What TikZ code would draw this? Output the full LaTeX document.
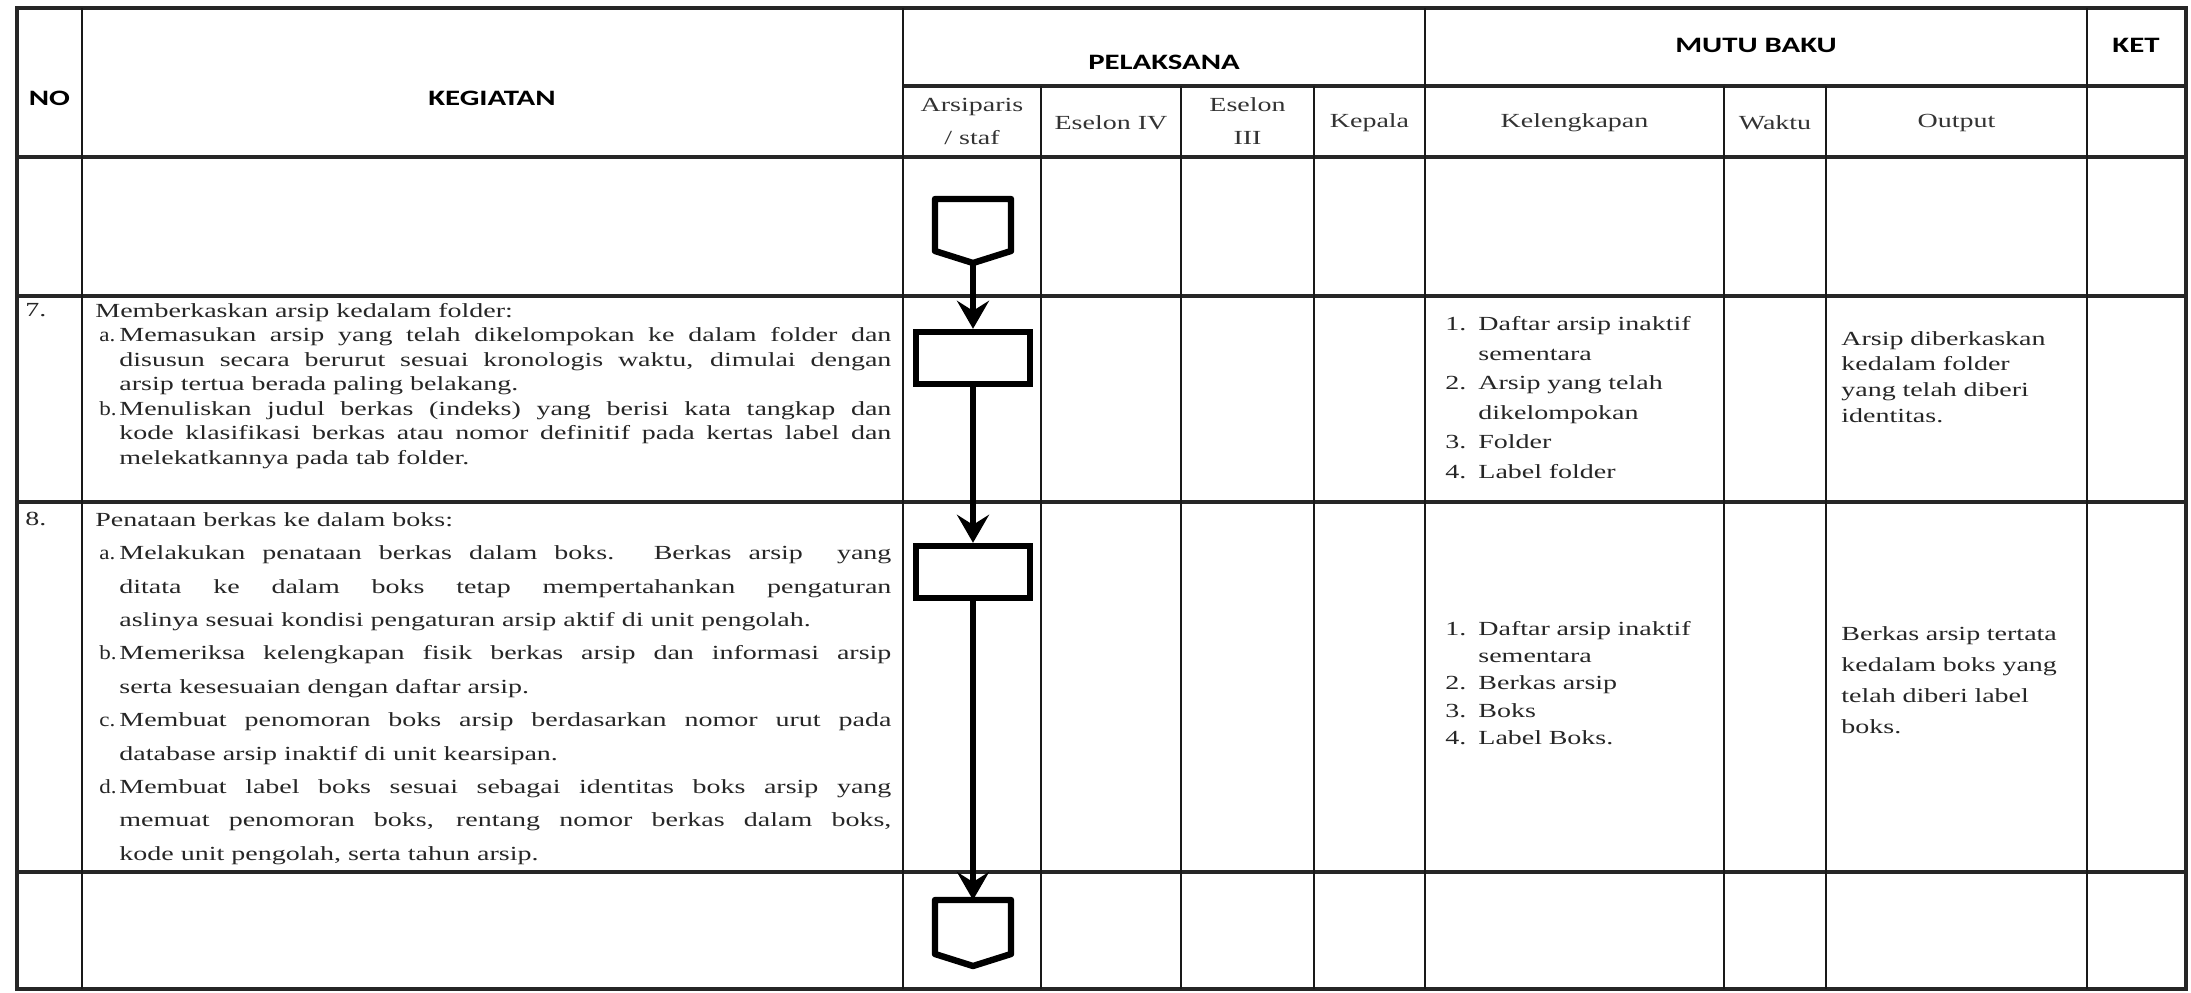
\documentclass[tikz,border=0pt]{standalone}
\usepackage{fontspec}
\setmainfont{Liberation Serif}[FakeStretch=1.4]
\newfontfamily\headfont{Carlito}[FakeStretch=1.4]
\newfontfamily\numfont{Liberation Serif}[FakeStretch=1.15]
\usetikzlibrary{arrows.meta}

% label hung in the left margin of a list line
\newcommand{\lbl}[2]{\noindent\llap{\makebox[#1][l]{#2}}}
\newcommand{\abc}[1]{\lbl{12pt}{\hspace{2pt}{\numfont #1}}}

\tikzset{
  vline/.style={line width=1pt, draw=black!90},
  hline/.style={line width=1.6pt, draw=black!85},
  headtxt/.style={font=\headfont\bfseries\fontsize{11}{13}\selectfont},
  subtxt/.style={font=\fontsize{10}{16.5}\selectfont, align=center, text=black!80},
  kegtxt/.style={anchor=north west, inner sep=0pt, text width=398pt, align=justify, text=black!85},
  listtxt/.style={anchor=north west, inner sep=0pt, text width=135pt, align=left, text=black!85},
  flowbox/.style={draw, line width=3.2pt, minimum width=57pt, minimum height=26pt, inner sep=0pt},
  conn/.style={draw, line width=3.2pt, line join=round},
  flow/.style={line width=2.8pt, -{Stealth[length=14pt, width=16pt, inset=5pt]}},
}

\begin{document}
\begin{tikzpicture}[x=0.5pt, y=-0.5pt]
\useasboundingbox (0,0) rectangle (2191,992);

% table grid
\draw[hline] (17,8) rectangle (2186,989);
\foreach \y in {157,296,502,872}
  \draw[hline] (17,\y) -- (2186,\y);
\draw[hline] (903,86) -- (2186,86);
\foreach \x in {82,903,1425,2087}
  \draw[vline] (\x,8) -- (\x,989);
\foreach \x in {1041,1181,1314,1724,1826}
  \draw[vline] (\x,86) -- (\x,989);

% header
\node[headtxt] (no) at (49.5,98) {NO};
\node[headtxt] (keg) at (492,98) {KEGIATAN};
\node[headtxt] (pel) at (1164,62) {PELAKSANA};
\node[headtxt] (mutu) at (1756,45) {MUTU BAKU};
\node[headtxt] (ket) at (2136,45) {KET};
\node[subtxt] (arsiparis) at (972,121) {Arsiparis\\/ staf};
\node[subtxt] (eselon4) at (1111,123) {Eselon IV};
\node[subtxt] (eselon3) at (1247.5,121) {Eselon\\III};
\node[subtxt] (kepala) at (1369.5,123) {Kepala};
\node[subtxt] (kelengkapan) at (1574.5,123) {Kelengkapan};
\node[subtxt] (waktu) at (1775,123) {Waktu};
\node[subtxt] (output) at (1956.5,123) {Output};

% row 7
\node[kegtxt, text width=30pt, font=\fontsize{10}{12.25}\selectfont] (no7) at (25,303) {7.};
\node[kegtxt, font=\fontsize{10}{12.25}\selectfont] (keg7) at (95,303) {\tolerance=10000
\noindent Memberkaskan arsip kedalam folder:\par
\leftskip=12pt
\abc{a.}Memasukan arsip yang telah dikelompokan ke dalam folder dan\linebreak
disusun secara berurut sesuai kronologis waktu, dimulai dengan\linebreak
arsip tertua berada paling belakang.\par
\abc{b.}Menuliskan judul berkas (indeks) yang berisi kata tangkap dan\linebreak
kode klasifikasi berkas atau nomor definitif pada kertas label dan\linebreak
melekatkannya pada tab folder.\par};
\node[listtxt, font=\fontsize{10}{14.8}\selectfont] (kel7) at (1445,316) {\leftskip=16.5pt
\lbl{16.5pt}{1.}Daftar arsip inaktif\newline sementara\par
\lbl{16.5pt}{2.}Arsip yang telah\newline dikelompokan\par
\lbl{16.5pt}{3.}Folder\par
\lbl{16.5pt}{4.}Label folder\par};
\node[listtxt, text width=120pt, font=\fontsize{10}{12.8}\selectfont] (out7) at (1841,331)
  {Arsip diberkaskan\newline kedalam folder\newline yang telah diberi\newline identitas.};

% row 8
\node[kegtxt, text width=30pt, font=\fontsize{10}{16.5}\selectfont] (no8) at (25,512) {8.};
\node[kegtxt, font=\fontsize{10}{16.7}\selectfont] (keg8) at (95,512) {\tolerance=10000
\noindent Penataan berkas ke dalam boks:\par
\leftskip=12pt
\abc{a.}Melakukan penataan berkas dalam boks. Berkas arsip\ \ yang\linebreak
ditata ke dalam boks tetap mempertahankan pengaturan\linebreak
aslinya sesuai kondisi pengaturan arsip aktif di unit pengolah.\par
\abc{b.}Memeriksa kelengkapan fisik berkas arsip dan informasi arsip\linebreak
serta kesesuaian dengan daftar arsip.\par
\abc{c.}Membuat penomoran boks arsip berdasarkan nomor urut pada\linebreak
database arsip inaktif di unit kearsipan.\par
\abc{d.}Membuat label boks sesuai sebagai identitas boks arsip yang\linebreak
memuat penomoran boks, rentang nomor berkas dalam boks,\linebreak
kode unit pengolah, serta tahun arsip.\par};
\node[listtxt, font=\fontsize{10}{13.6}\selectfont] (kel8) at (1445,621) {\leftskip=16.5pt
\lbl{16.5pt}{1.}Daftar arsip inaktif\newline sementara\par
\lbl{16.5pt}{2.}Berkas arsip\par
\lbl{16.5pt}{3.}Boks\par
\lbl{16.5pt}{4.}Label Boks.\par};
\node[listtxt, text width=120pt, font=\fontsize{10}{15.5}\selectfont] (out8) at (1841,626)
  {Berkas arsip tertata\newline kedalam boks yang\newline telah diberi label\newline boks.};

% flow
\draw[conn] (935,199) -- (1011,199) -- (1011,251) -- (973,263) -- (935,251) -- cycle;
\coordinate (start) at (973,263);
\node[flowbox] (box7) at (973,358) {};
\node[flowbox] (box8) at (973,572) {};
\draw[conn] (935,900) -- (1011,900) -- (1011,954) -- (973,966) -- (935,954) -- cycle;
\coordinate (stop) at (973,900);
\draw[flow] (start) -- (box7);
\draw[flow] (box7) -- (box8);
\draw[flow] (box8) -- (stop);

\end{tikzpicture}
\end{document}
